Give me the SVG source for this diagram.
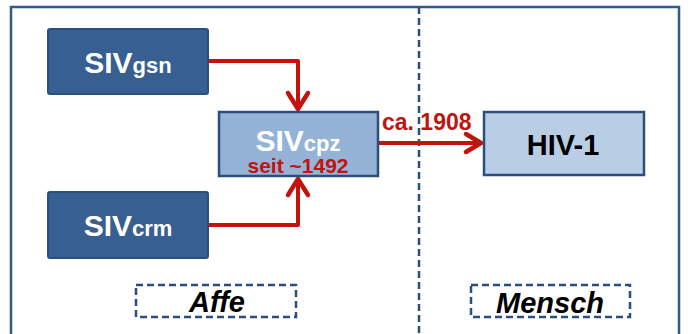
<svg xmlns="http://www.w3.org/2000/svg" width="688" height="334" viewBox="0 0 688 334">
<style>
.frame{fill:none;stroke:#2E5A8C;stroke-width:2.5}
.dark{fill:#385F91;stroke:#2A4E7E;stroke-width:2}
.mid{fill:#95B3D7;stroke:#2A4E7E;stroke-width:2.5}
.light{fill:#B9CDE5;stroke:#2A4E7E;stroke-width:2.5}
.dash{fill:none;stroke:#2A4E7E;stroke-width:2.5;stroke-dasharray:7 4}
.con{fill:none;stroke:#C4120C;stroke-width:4;stroke-linejoin:round}
.head{fill:none;stroke:#C4120C;stroke-width:4.5;stroke-linecap:round;stroke-linejoin:round}
text{font-family:"Liberation Sans",Arial,sans-serif;font-weight:bold}
.w{fill:#ffffff}
.r{fill:#C4120C}
.lab{font-style:italic;font-size:29px;fill:#000}
</style>
<rect class="frame" x="11" y="7" width="668" height="340"/>
<line class="dash" x1="419" y1="7" x2="419" y2="334"/>
<g id="connectors">
<path class="con" d="M208 61 H298 V108"/>
<path class="head" d="M288 93 L298 109 L308 93"/>
<path class="con" d="M208 225 H298 V179"/>
<path class="head" d="M288 195 L298 179 L308 195"/>
<path class="con" d="M378 143 H481"/>
<path class="head" d="M466 134 L481 143 L466 152"/>
<text class="r" x="382" y="130" font-size="23">ca. 1908</text>
</g>
<g id="siv_gsn">
<rect class="dark" x="48" y="29" width="160" height="65" rx="2"/>
<text class="w" x="128" y="73" text-anchor="middle"><tspan font-size="30">SIV</tspan><tspan font-size="22">gsn</tspan></text>
</g>
<g id="siv_crm">
<rect class="dark" x="48" y="192" width="160" height="66" rx="2"/>
<text class="w" x="128" y="236" text-anchor="middle"><tspan font-size="30">SIV</tspan><tspan font-size="22">crm</tspan></text>
</g>
<g id="siv_cpz">
<rect class="mid" x="219" y="112" width="159" height="64"/>
<text class="w" x="298" y="151" text-anchor="middle"><tspan font-size="30">SIV</tspan><tspan font-size="22">cpz</tspan></text>
<text class="r" x="298" y="173" text-anchor="middle" font-size="21">seit ~1492</text>
</g>
<g id="hiv1">
<rect class="light" x="484" y="112" width="160" height="63"/>
<text x="563" y="155" text-anchor="middle" font-size="29" fill="#000">HIV-1</text>
</g>
<g id="affe">
<rect class="dash" x="136" y="285" width="160" height="32"/>
<text class="lab" x="217" y="312" text-anchor="middle">Affe</text>
</g>
<g id="mensch">
<rect class="dash" x="471" y="285" width="159" height="32"/>
<text class="lab" x="550" y="313" text-anchor="middle">Mensch</text>
</g>
</svg>
